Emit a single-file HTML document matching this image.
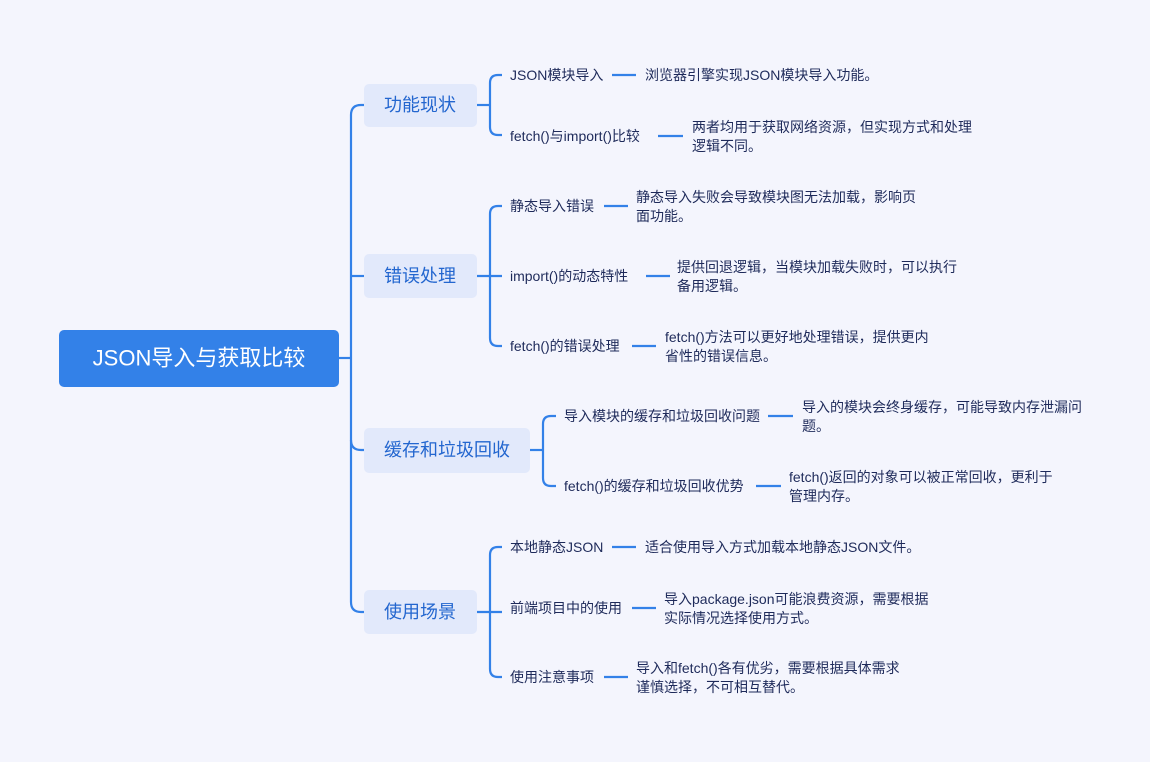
<!DOCTYPE html>
<html><head><meta charset="utf-8"><style>
html,body{margin:0;padding:0;background:#f4f5fd;}
svg{display:block;}
text{font-family:"Liberation Sans","Noto Sans CJK SC",sans-serif;fill:#1e2a5a;font-size:14px;dominant-baseline:central;}
.b{font-size:18px;fill:#2366cf;text-anchor:middle;}
.r{font-size:22px;fill:#fff;text-anchor:middle;}
path,line{stroke:#3381e8;stroke-width:2.2;fill:none;}
</style></head><body>
<svg width="1150" height="762" viewBox="0 0 1150 762">
<rect width="1150" height="762" fill="#f4f5fd"/>
<path d="M364 105 H361 Q351 105 351 115 V602 Q351 612 361 612 H364"/>
<line x1="351" y1="276" x2="364" y2="276"/>
<path d="M351 440 Q351 450 361 450 H364"/>
<line x1="339" y1="358" x2="351" y2="358"/>
<rect x="59" y="330" width="280" height="57" rx="5" fill="#3381e8"/>
<text class="r" x="199" y="358">JSON导入与获取比较</text>

<rect x="364" y="84" width="113" height="43" rx="5" fill="#e2e9fb"/>
<text class="b" x="420" y="105">功能现状</text>
<line x1="477" y1="105" x2="490" y2="105"/>
<path d="M502 75 H498 Q490 75 490 83 V127 Q490 135 498 135 H502"/>
<text x="510" y="75">JSON模块导入</text><line x1="612" y1="75" x2="636" y2="75"/>
<text x="645" y="75">浏览器引擎实现JSON模块导入功能。</text>
<text x="510" y="136">fetch()与import()比较</text><line x1="658" y1="136" x2="683" y2="136"/>
<text x="692" y="127">两者均用于获取网络资源，但实现方式和处理</text>
<text x="692" y="146">逻辑不同。</text>

<rect x="364" y="254" width="113" height="44" rx="5" fill="#e2e9fb"/>
<text class="b" x="420" y="276">错误处理</text>
<line x1="477" y1="276" x2="502" y2="276"/>
<path d="M502 206 H498 Q490 206 490 214 V338 Q490 346 498 346 H502"/>
<text x="510" y="206">静态导入错误</text><line x1="604" y1="206" x2="628" y2="206"/>
<text x="636" y="197">静态导入失败会导致模块图无法加载，影响页</text>
<text x="636" y="216">面功能。</text>
<text x="510" y="276">import()的动态特性</text><line x1="646" y1="276" x2="670" y2="276"/>
<text x="677" y="267">提供回退逻辑，当模块加载失败时，可以执行</text>
<text x="677" y="286">备用逻辑。</text>
<text x="510" y="346">fetch()的错误处理</text><line x1="632" y1="346" x2="656" y2="346"/>
<text x="665" y="337">fetch()方法可以更好地处理错误，提供更内</text>
<text x="665" y="356">省性的错误信息。</text>

<rect x="364" y="428" width="166" height="45" rx="5" fill="#e2e9fb"/>
<text class="b" x="447" y="450">缓存和垃圾回收</text>
<line x1="530" y1="450" x2="543" y2="450"/>
<path d="M556 416 H551 Q543 416 543 424 V478 Q543 486 551 486 H556"/>
<text x="564" y="416">导入模块的缓存和垃圾回收问题</text><line x1="768" y1="416" x2="793" y2="416"/>
<text x="802" y="407">导入的模块会终身缓存，可能导致内存泄漏问</text>
<text x="802" y="426">题。</text>
<text x="564" y="486">fetch()的缓存和垃圾回收优势</text><line x1="756" y1="486" x2="781" y2="486"/>
<text x="789" y="477">fetch()返回的对象可以被正常回收，更利于</text>
<text x="789" y="496">管理内存。</text>

<rect x="364" y="590" width="113" height="44" rx="5" fill="#e2e9fb"/>
<text class="b" x="420" y="612">使用场景</text>
<line x1="477" y1="612" x2="502" y2="612"/>
<path d="M502 547 H498 Q490 547 490 555 V669 Q490 677 498 677 H502"/>
<text x="510" y="547">本地静态JSON</text><line x1="612" y1="547" x2="636" y2="547"/>
<text x="645" y="547">适合使用导入方式加载本地静态JSON文件。</text>
<text x="510" y="608">前端项目中的使用</text><line x1="632" y1="608" x2="656" y2="608"/>
<text x="664" y="599">导入package.json可能浪费资源，需要根据</text>
<text x="664" y="618">实际情况选择使用方式。</text>
<text x="510" y="677">使用注意事项</text><line x1="604" y1="677" x2="628" y2="677"/>
<text x="636" y="668">导入和fetch()各有优劣，需要根据具体需求</text>
<text x="636" y="687">谨慎选择，不可相互替代。</text>
</svg>
</body></html>
